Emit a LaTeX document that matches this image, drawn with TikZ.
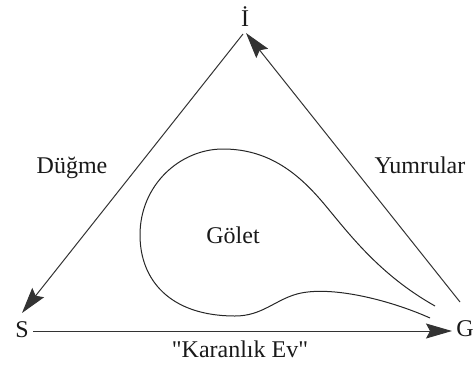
\documentclass[tikz,border=0pt]{standalone}
\usepackage{fontspec}
\setmainfont{Liberation Serif}[Ligatures=TeXOff]
\usetikzlibrary{arrows.meta}
\begin{document}
\begin{tikzpicture}[x=1pt,y=-1pt,
  lbl/.style={inner sep=0pt, text=black!90, font=\fontsize{24}{28}\selectfont},
  edge/.style={line width=1pt, draw=black!80},
  arr/.style={edge, -{Stealth[length=26pt,width=15pt,inset=4pt]}},
  pond/.style={line width=1pt, draw=black!85}]
\useasboundingbox (0,0) rectangle (473,367);
% labels
\node[lbl] (I) at (245,17) {İ};
\node[lbl] (S) at (22,330) {S};
\node[lbl] (G) at (465,329) {G};
\node[lbl] (dugme) at (72,168) {Düğme};
\node[lbl] (yum) at (420,165) {Yumrular};
\node[lbl] (golet) at (233,235) {Gölet};
\node[lbl] (ev) at (240,349) {"Karanlık Ev"};
% triangle corners
\coordinate (apexL) at (243,34);
\coordinate (apexR) at (246,33);
\coordinate (stip) at (22,313);
\coordinate (gtip) at (452,331);
\coordinate (rstart) at (460,302);
\coordinate (sstart) at (33,331);
\draw[arr] (apexL) -- (stip);
\draw[arr] (sstart) -- (gtip);
\draw[arr] (rstart) -- (apexR);
% pond
\coordinate (tailA) at (430,318);
\coordinate (tailB) at (435,306);
\draw[pond] (tailA) .. controls (390,300) and (330,285) .. (297,294)
  .. controls (275,300) and (262,316) .. (235,316)
  .. controls (170,316) and (140,280) .. (140,235)
  .. controls (140,185) and (180,149) .. (223,149)
  .. controls (270,149) and (300,175) .. (325,205)
  .. controls (350,235) and (380,275) .. (tailB);
\end{tikzpicture}
\end{document}
